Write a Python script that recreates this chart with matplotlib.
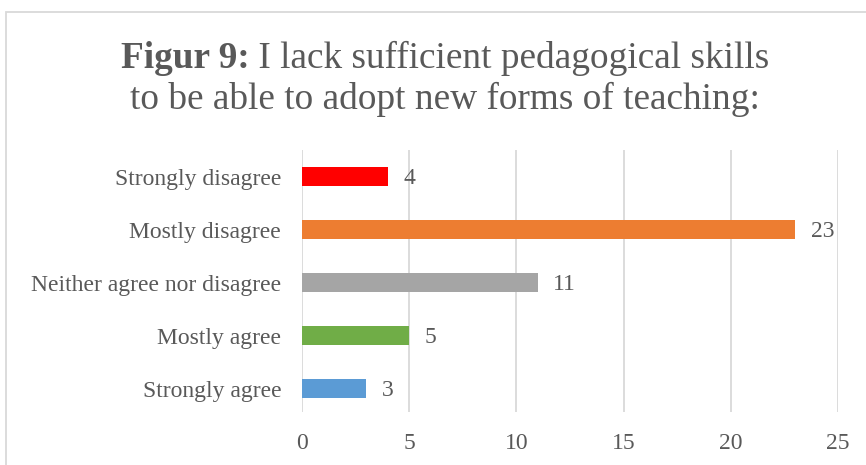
import matplotlib.pyplot as plt
from matplotlib.patches import Rectangle

# Survey answers, bottom to top
categories = ['Strongly agree', 'Mostly agree', 'Neither agree nor disagree',
              'Mostly disagree', 'Strongly disagree']
counts = [3, 5, 11, 23, 4]
bar_colors = ['#5B9BD5', '#70AD47', '#A5A5A5', '#ED7D31', '#FF0000']
x_ticks = [0, 5, 10, 15, 20, 25]

title_bold = 'Figur 9:'
title_rest = ' I lack sufficient pedagogical skills'
title_line2 = 'to be able to adopt new forms of teaching:'

text_color = '#595959'
plt.rcParams['font.family'] = ['Liberation Serif', 'DejaVu Serif']

fig = plt.figure(figsize=(8.66, 4.65), dpi=100)
ax = fig.add_axes([302 / 866, 1 - 412 / 465, 536 / 866, 262 / 465])

# Light frame around the chart area
fig.patches.append(Rectangle((6 / 866, -0.05), 1.2, 1 - 12 / 465 + 0.05,
                             transform=fig.transFigure, fill=False,
                             edgecolor='#d9d9d9', linewidth=1.3))

ypos = range(len(categories))
ax.barh(ypos, counts, height=0.36, color=bar_colors, zorder=3)
for y, v in zip(ypos, counts):
    ax.text(v + 0.72, y - 0.03, str(v), va='center', ha='left', fontsize=17,
            color=text_color)

ax.set_xlim(0, 25)
ax.set_ylim(-0.44, 4.5)
ax.set_xticks(x_ticks)
ax.set_yticks(list(ypos))
ax.set_yticklabels(categories)
ax.tick_params(axis='both', length=0, labelsize=17, colors=text_color)
ax.tick_params(axis='y', pad=15)
ax.tick_params(axis='x', pad=15)
ax.grid(axis='x', color='#d9d9d9', linewidth=1.3, zorder=0)
for s in ax.spines.values():
    s.set_visible(False)

# Title: bold prefix followed by regular text, centred as one line
cx = 445 / 866
y1 = 1 - 68 / 465
tb = fig.text(0, y1, title_bold, fontsize=26.8, fontweight='bold',
              color=text_color, va='baseline')
tr = fig.text(0, y1, title_rest, fontsize=26.8, color=text_color,
              va='baseline')
fig.canvas.draw()
r = fig.canvas.get_renderer()
wb = tb.get_window_extent(r).width / fig.bbox.width
wr = tr.get_window_extent(r).width / fig.bbox.width
x0 = cx - (wb + wr) / 2
tb.set_x(x0)
tr.set_x(x0 + wb)
fig.text(cx, 1 - 109 / 465, title_line2, ha='center', va='baseline',
         fontsize=26.8, color=text_color)

fig.savefig('out.png', dpi=100)
